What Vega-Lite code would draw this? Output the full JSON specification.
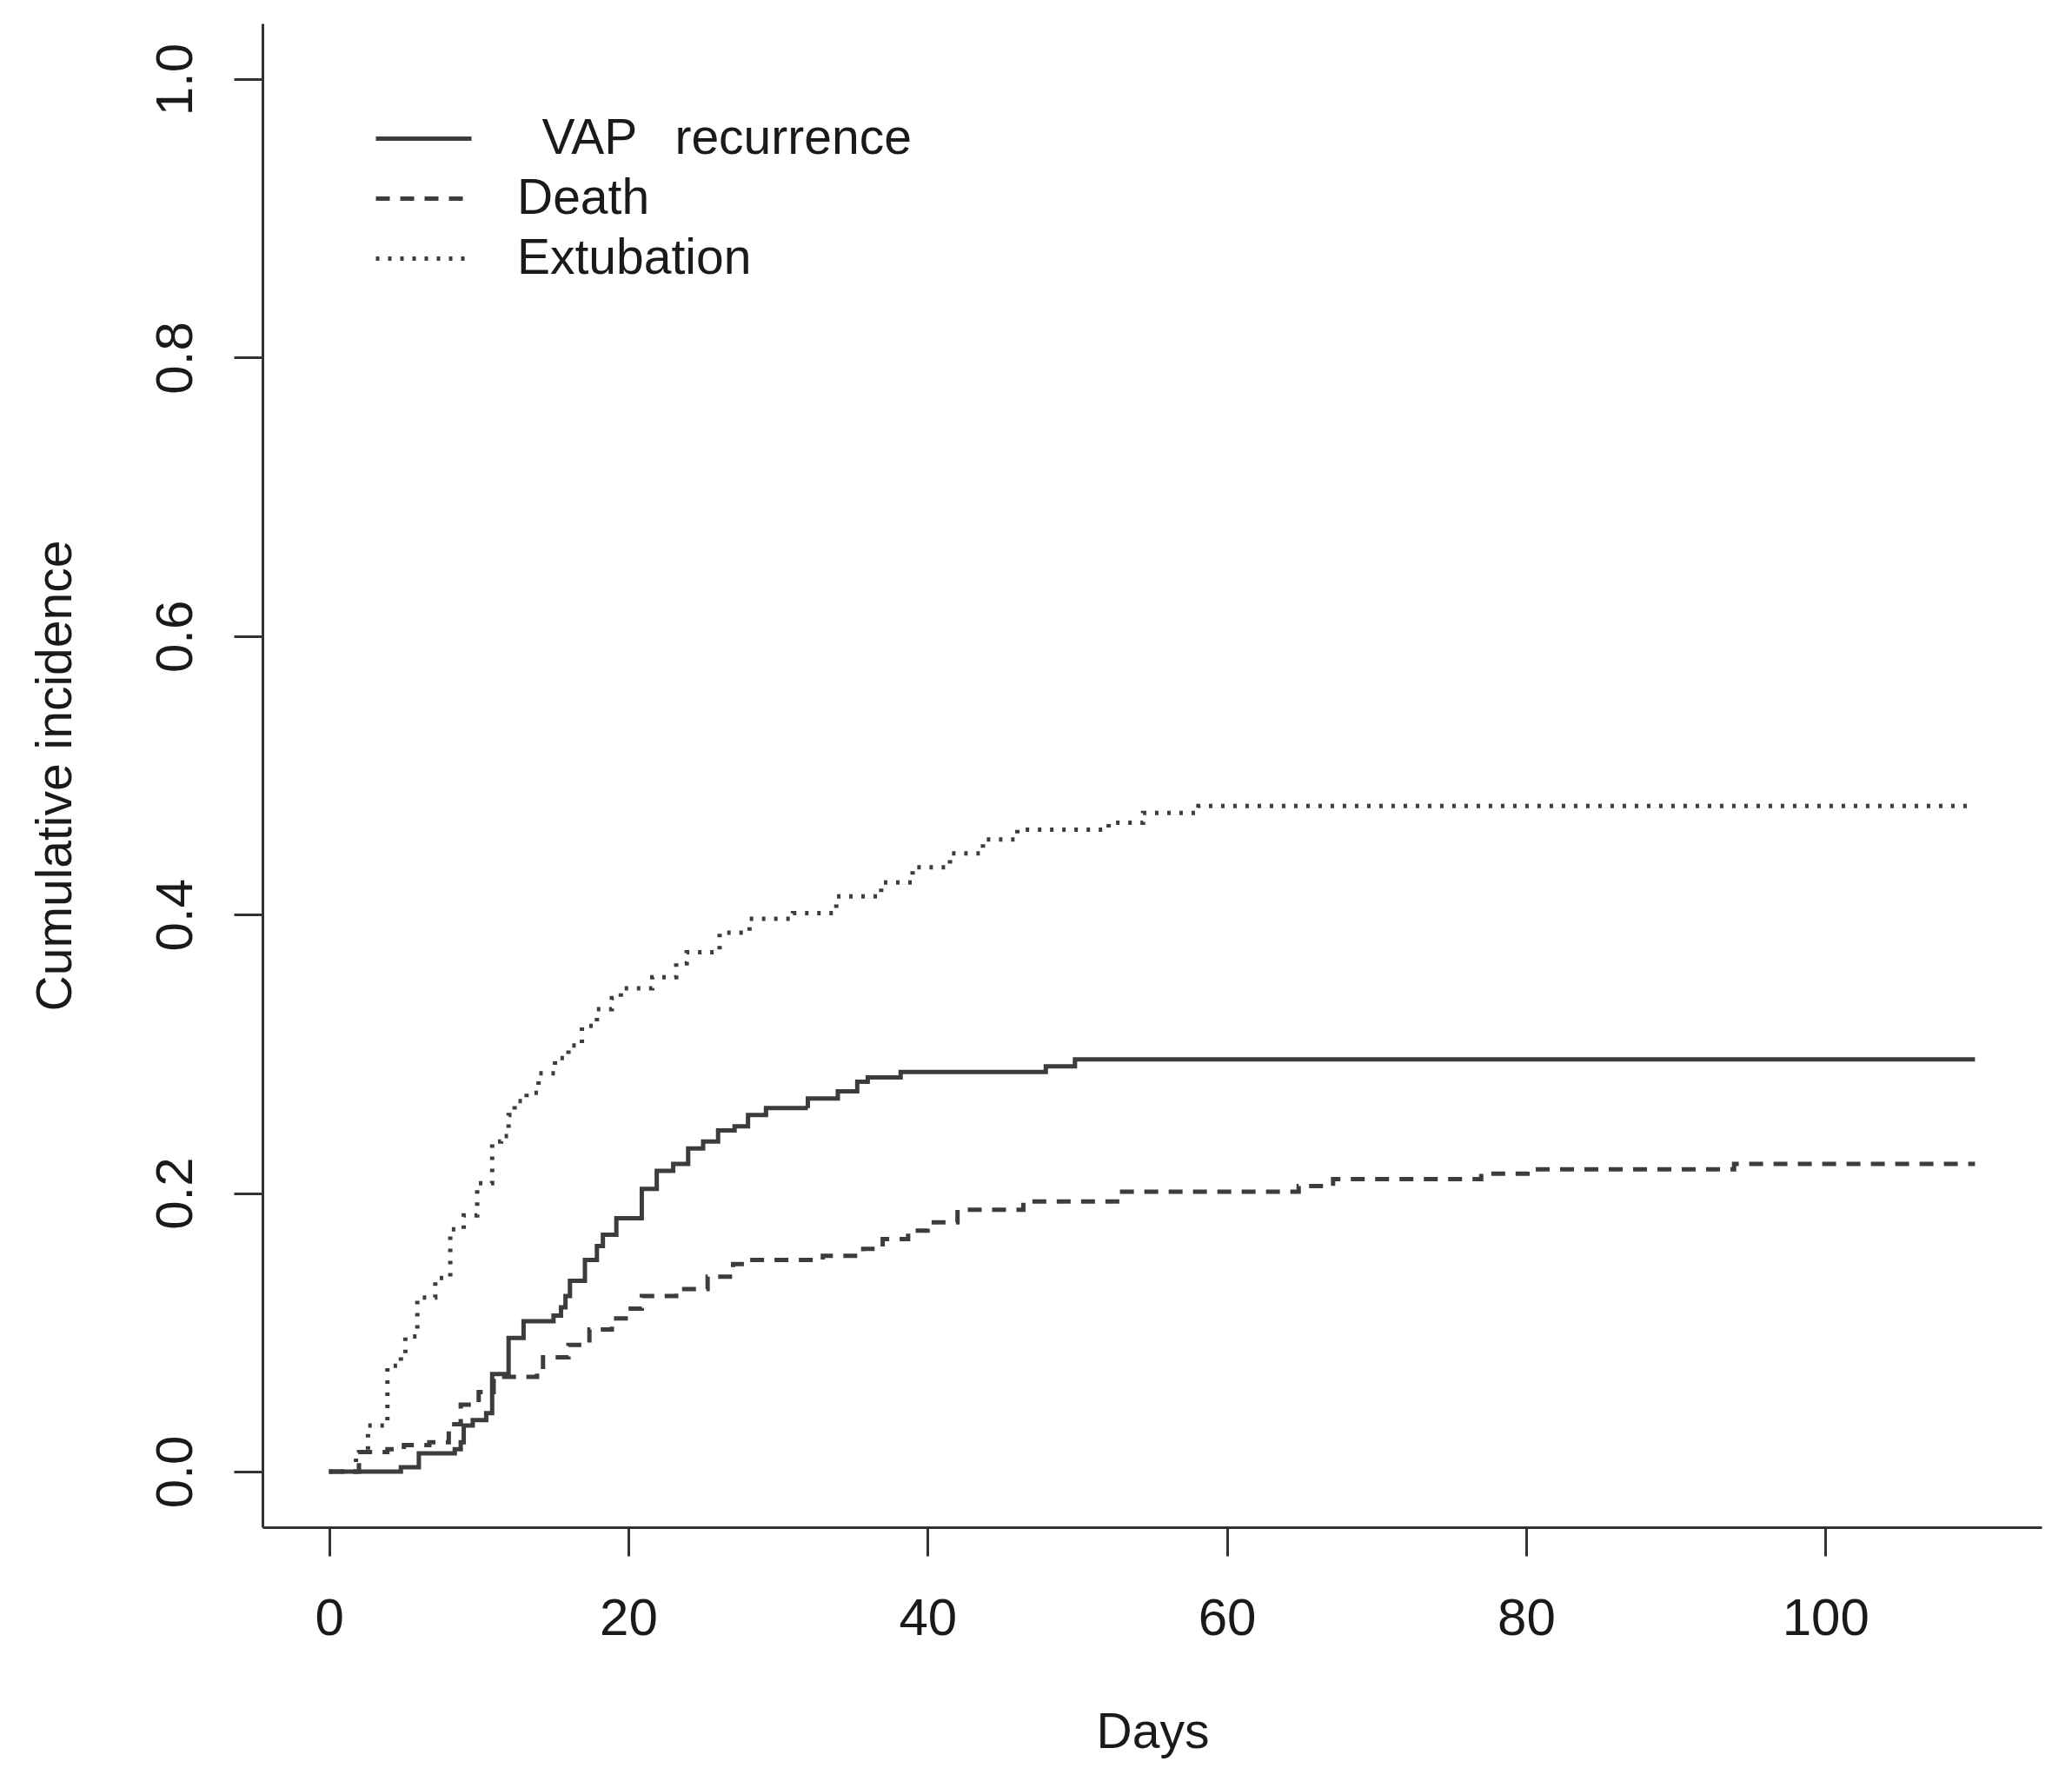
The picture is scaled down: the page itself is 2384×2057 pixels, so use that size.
{
  "$schema": "https://vega.github.io/schema/vega-lite/v6.json",
  "width": 2047,
  "height": 1730,
  "autosize": {"type": "none"},
  "padding": {"left": 302, "top": 27, "right": 35, "bottom": 300},
  "background": "white",
  "config": {
    "view": {"stroke": null},
    "font": "Liberation Sans",
    "axis": {
      "grid": false,
      "domainColor": "#333333",
      "domainWidth": 3,
      "tickColor": "#333333",
      "tickWidth": 3,
      "tickSize": 33,
      "labelColor": "#1a1a1a",
      "titleColor": "#1a1a1a",
      "labelFont": "Liberation Sans",
      "titleFont": "Liberation Sans",
      "titleFontWeight": "normal"
    }
  },
  "data": {
    "values": [
      {"s": "VAP recurrence", "d": 0, "v": 0},
      {"s": "VAP recurrence", "d": 4.8, "v": 0.003},
      {"s": "VAP recurrence", "d": 6, "v": 0.013},
      {"s": "VAP recurrence", "d": 8.4, "v": 0.016},
      {"s": "VAP recurrence", "d": 8.8, "v": 0.021},
      {"s": "VAP recurrence", "d": 9, "v": 0.033},
      {"s": "VAP recurrence", "d": 9.6, "v": 0.037},
      {"s": "VAP recurrence", "d": 10.5, "v": 0.042},
      {"s": "VAP recurrence", "d": 10.9, "v": 0.07},
      {"s": "VAP recurrence", "d": 12, "v": 0.096},
      {"s": "VAP recurrence", "d": 13, "v": 0.108},
      {"s": "VAP recurrence", "d": 15, "v": 0.112},
      {"s": "VAP recurrence", "d": 15.5, "v": 0.118},
      {"s": "VAP recurrence", "d": 15.8, "v": 0.126},
      {"s": "VAP recurrence", "d": 16.1, "v": 0.137},
      {"s": "VAP recurrence", "d": 17.1, "v": 0.152},
      {"s": "VAP recurrence", "d": 17.9, "v": 0.162},
      {"s": "VAP recurrence", "d": 18.3, "v": 0.17},
      {"s": "VAP recurrence", "d": 19.2, "v": 0.182},
      {"s": "VAP recurrence", "d": 20.9, "v": 0.203},
      {"s": "VAP recurrence", "d": 21.9, "v": 0.216},
      {"s": "VAP recurrence", "d": 23, "v": 0.221},
      {"s": "VAP recurrence", "d": 24, "v": 0.232},
      {"s": "VAP recurrence", "d": 25, "v": 0.237},
      {"s": "VAP recurrence", "d": 26, "v": 0.245},
      {"s": "VAP recurrence", "d": 27.1, "v": 0.248},
      {"s": "VAP recurrence", "d": 28, "v": 0.256},
      {"s": "VAP recurrence", "d": 29.2, "v": 0.261},
      {"s": "VAP recurrence", "d": 32, "v": 0.268},
      {"s": "VAP recurrence", "d": 34, "v": 0.273},
      {"s": "VAP recurrence", "d": 35.3, "v": 0.28},
      {"s": "VAP recurrence", "d": 36, "v": 0.283},
      {"s": "VAP recurrence", "d": 38.2, "v": 0.287},
      {"s": "VAP recurrence", "d": 47.9, "v": 0.291},
      {"s": "VAP recurrence", "d": 49.85, "v": 0.296},
      {"s": "VAP recurrence", "d": 110, "v": 0.296},
      {"s": "Death", "d": 0, "v": 0},
      {"s": "Death", "d": 2, "v": 0.014},
      {"s": "Death", "d": 3.9, "v": 0.016},
      {"s": "Death", "d": 5, "v": 0.019},
      {"s": "Death", "d": 6.7, "v": 0.021},
      {"s": "Death", "d": 8, "v": 0.034},
      {"s": "Death", "d": 8.8, "v": 0.048},
      {"s": "Death", "d": 10, "v": 0.057},
      {"s": "Death", "d": 11, "v": 0.068},
      {"s": "Death", "d": 13.9, "v": 0.072},
      {"s": "Death", "d": 14.3, "v": 0.082},
      {"s": "Death", "d": 16, "v": 0.091},
      {"s": "Death", "d": 17.4, "v": 0.102},
      {"s": "Death", "d": 18.9, "v": 0.11},
      {"s": "Death", "d": 20, "v": 0.117},
      {"s": "Death", "d": 20.9, "v": 0.126},
      {"s": "Death", "d": 23.2, "v": 0.131},
      {"s": "Death", "d": 25.3, "v": 0.14},
      {"s": "Death", "d": 27, "v": 0.149},
      {"s": "Death", "d": 28, "v": 0.152},
      {"s": "Death", "d": 33, "v": 0.155},
      {"s": "Death", "d": 35.7, "v": 0.16},
      {"s": "Death", "d": 37, "v": 0.167},
      {"s": "Death", "d": 38.7, "v": 0.173},
      {"s": "Death", "d": 40, "v": 0.179},
      {"s": "Death", "d": 42, "v": 0.188},
      {"s": "Death", "d": 46.4, "v": 0.194},
      {"s": "Death", "d": 53, "v": 0.201},
      {"s": "Death", "d": 64.8, "v": 0.205},
      {"s": "Death", "d": 67.1, "v": 0.21},
      {"s": "Death", "d": 77, "v": 0.214},
      {"s": "Death", "d": 80.1, "v": 0.217},
      {"s": "Death", "d": 93.9, "v": 0.221},
      {"s": "Death", "d": 110, "v": 0.221},
      {"s": "Extubation", "d": 0, "v": 0},
      {"s": "Extubation", "d": 1.8, "v": 0.014},
      {"s": "Extubation", "d": 2.6, "v": 0.033},
      {"s": "Extubation", "d": 3.9, "v": 0.076},
      {"s": "Extubation", "d": 4.8, "v": 0.084},
      {"s": "Extubation", "d": 5.1, "v": 0.097},
      {"s": "Extubation", "d": 5.9, "v": 0.125},
      {"s": "Extubation", "d": 7.1, "v": 0.139},
      {"s": "Extubation", "d": 8.1, "v": 0.174},
      {"s": "Extubation", "d": 9, "v": 0.184},
      {"s": "Extubation", "d": 9.9, "v": 0.207},
      {"s": "Extubation", "d": 10.9, "v": 0.237},
      {"s": "Extubation", "d": 11.5, "v": 0.241},
      {"s": "Extubation", "d": 12, "v": 0.256},
      {"s": "Extubation", "d": 12.4, "v": 0.266},
      {"s": "Extubation", "d": 13.2, "v": 0.272},
      {"s": "Extubation", "d": 14, "v": 0.286},
      {"s": "Extubation", "d": 15.1, "v": 0.297},
      {"s": "Extubation", "d": 16, "v": 0.306},
      {"s": "Extubation", "d": 16.9, "v": 0.32},
      {"s": "Extubation", "d": 17.9, "v": 0.332},
      {"s": "Extubation", "d": 18.9, "v": 0.34},
      {"s": "Extubation", "d": 19.5, "v": 0.347},
      {"s": "Extubation", "d": 21.6, "v": 0.355},
      {"s": "Extubation", "d": 23.2, "v": 0.365},
      {"s": "Extubation", "d": 23.9, "v": 0.373},
      {"s": "Extubation", "d": 26.1, "v": 0.387},
      {"s": "Extubation", "d": 28.1, "v": 0.397},
      {"s": "Extubation", "d": 31, "v": 0.401},
      {"s": "Extubation", "d": 33.9, "v": 0.413},
      {"s": "Extubation", "d": 36.9, "v": 0.423},
      {"s": "Extubation", "d": 39, "v": 0.434},
      {"s": "Extubation", "d": 41.5, "v": 0.444},
      {"s": "Extubation", "d": 43.7, "v": 0.454},
      {"s": "Extubation", "d": 46, "v": 0.461},
      {"s": "Extubation", "d": 52.1, "v": 0.466},
      {"s": "Extubation", "d": 54.4, "v": 0.473},
      {"s": "Extubation", "d": 58.1, "v": 0.478},
      {"s": "Extubation", "d": 110, "v": 0.478}
    ]
  },
  "mark": {"type": "line", "interpolate": "step-after", "strokeWidth": 5, "color": "#3c3c3c", "strokeCap": "butt"},
  "encoding": {
    "x": {
      "field": "d",
      "type": "quantitative",
      "scale": {"domain": [-4.45, 114.45], "nice": false, "zero": false},
      "axis": {
        "values": [0, 20, 40, 60, 80, 100],
        "title": "Days",
        "labelFontSize": 60,
        "labelBaseline": "alphabetic",
        "labelPadding": 90,
        "labelFlush": false,
        "titleFontSize": 57,
        "titleX": 1024,
        "titleY": 253,
        "titleAlign": "center",
        "titleBaseline": "alphabetic"
      }
    },
    "y": {
      "field": "v",
      "type": "quantitative",
      "scale": {"domain": [-0.04, 1.04], "nice": false, "zero": false},
      "axis": {
        "values": [0, 0.2, 0.4, 0.6, 0.8, 1.0],
        "format": ".1f",
        "title": "Cumulative incidence",
        "labelFontSize": 60,
        "labelAngle": 270,
        "labelAlign": "center",
        "labelBaseline": "alphabetic",
        "labelPadding": 49,
        "labelFlush": false,
        "titleFontSize": 57,
        "titleAngle": 270,
        "titleX": -221,
        "titleY": 865,
        "titleAlign": "center",
        "titleBaseline": "alphabetic"
      }
    },
    "strokeDash": {
      "field": "s",
      "type": "nominal",
      "scale": {"domain": ["VAP recurrence", "Death", "Extubation"], "range": [[1, 0], [16, 12], [4, 10]]},
      "legend": {
        "orient": "none",
        "legendX": 128,
        "legendY": 98,
        "title": null,
        "padding": 0,
        "symbolType": "stroke",
        "symbolSize": 12100,
        "symbolStrokeWidth": 5,
        "symbolStrokeColor": "#3c3c3c",
        "clipHeight": 69,
        "rowPadding": 0,
        "labelOffset": 50,
        "labelFontSize": 57,
        "labelColor": "#1a1a1a",
        "labelLimit": 1000,
        "labelExpr": "datum.label == 'VAP recurrence' ? '\u200b\u2002VAP\u00a0\u00a0\u2009recurrence' : datum.label"
      }
    }
  }
}
